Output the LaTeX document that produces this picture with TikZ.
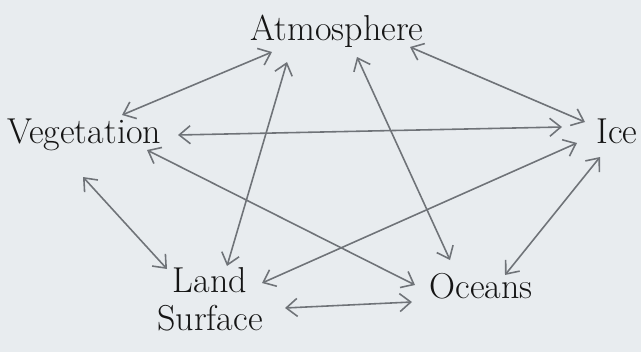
\documentclass[tikz,border=0pt]{standalone}
\usepackage{xcolor}
\usepackage{tikz}
\usetikzlibrary{arrows.meta,positioning}
\definecolor{paper}{HTML}{E8ECEF}
\definecolor{pencil}{HTML}{6F7378}
\definecolor{ink}{HTML}{151515}

\begin{document}
\begin{tikzpicture}[
    box/.style={ink, inner sep=0pt, font=\fontsize{20.5}{21.5}\selectfont},
    link/.style={pencil, line width=0.9pt, >={Straight Barb[length=2.2mm,width=3.6mm]}, <->}
  ]
  \fill[paper] (0,0) rectangle (12.82,-7.04);

  \node[box, anchor=base] (atm) at (6.74,-0.80) {Atmosphere};
  \node[box, anchor=base] (veg) at (1.68,-2.86) {Vegetation};
  \node[box, anchor=base] (ice) at (12.34,-2.86) {Ice};
  \node[box, align=center] (land) at (4.20,-5.98) {Land\\Surface};
  \node[box, anchor=base] (ocean) at (9.62,-5.96) {Oceans};

  \draw[link] ([shift={(-1.30,-0.24)}]atm.base) -- ([shift={(0.76,0.56)}]veg.base);
  \draw[link] ([shift={(-1.00,-0.44)}]atm.base) -- ([shift={(0.34,0.66)}]land.center);
  \draw[link] ([shift={(0.40,-0.34)}]atm.base) -- ([shift={(-0.62,0.76)}]ocean.base);
  \draw[link] ([shift={(1.46,-0.14)}]atm.base) -- ([shift={(-0.64,0.42)}]ice.base);
  \draw[link] ([shift={(1.88,0.16)}]veg.base) -- ([shift={(-1.10,0.32)}]ice.base);
  \draw[link] ([shift={(1.26,-0.14)}]veg.base) -- ([shift={(-1.32,0.26)}]ocean.base);
  \draw[link] ([shift={(-0.02,-0.68)}]veg.base) -- ([shift={(-0.86,0.60)}]land.center);
  \draw[link] ([shift={(-0.80,0)}]ice.base) -- ([shift={(1.04,0.32)}]land.center);
  \draw[link] ([shift={(-0.34,-0.28)}]ice.base) -- ([shift={(0.48,0.46)}]ocean.base);
  \draw[link] ([shift={(1.50,-0.18)}]land.center) -- ([shift={(-1.38,-0.08)}]ocean.base);
\end{tikzpicture}
\end{document}
